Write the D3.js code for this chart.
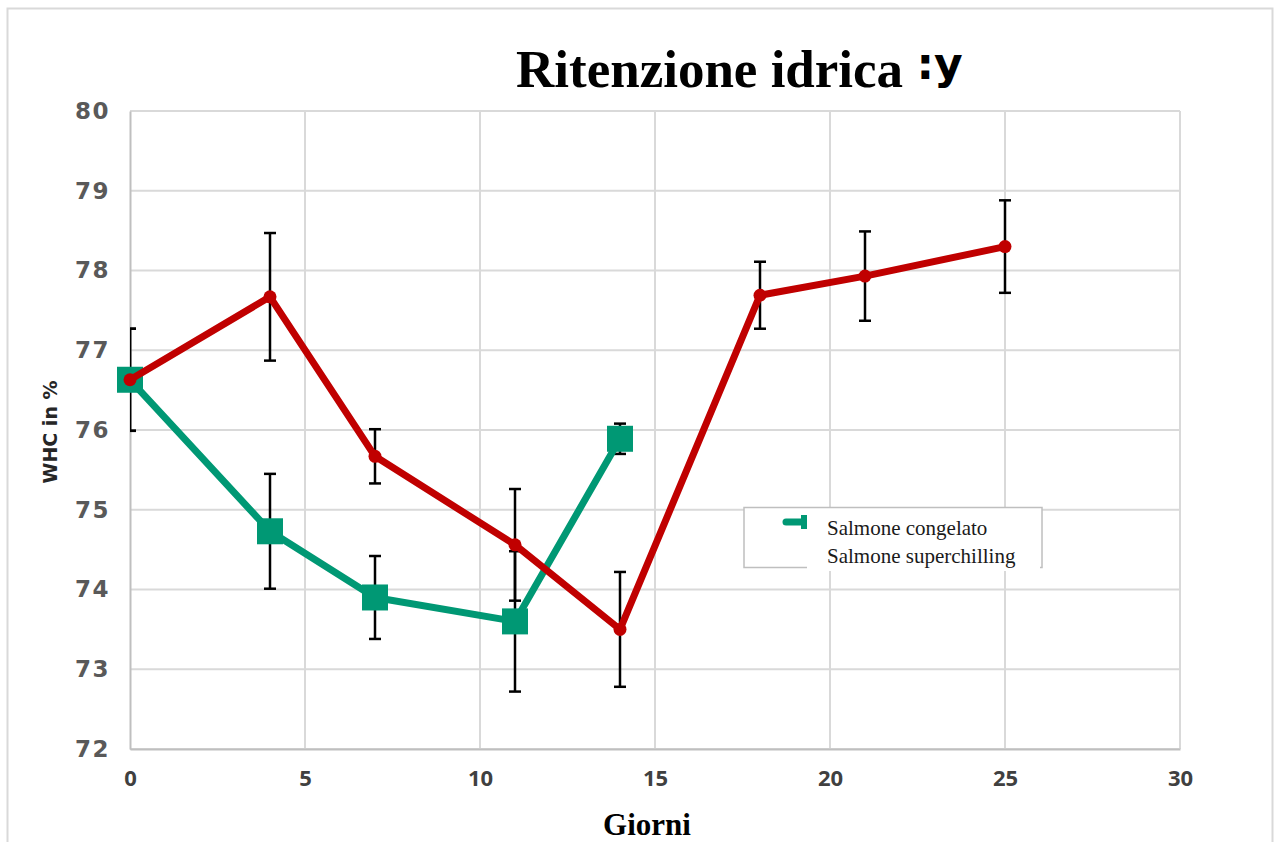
<!DOCTYPE html>
<html>
<head>
<meta charset="utf-8">
<script src="https://cdn.jsdelivr.net/npm/d3@7"></script>
<style>
  html, body { margin: 0; padding: 0; background: #ffffff; }
  svg { display: block; }
</style>
</head>
<body>
<svg id="chart"></svg>
<script>
// dati
const xTicks = [0, 5, 10, 15, 20, 25, 30];
const yTicks = [72, 73, 74, 75, 76, 77, 78, 79, 80];

const congelatoDays = [0, 4, 7, 11, 14];
const congelatoValues = [76.63, 74.73, 73.90, 73.60, 75.89];
const congelatoErrors = [0.64, 0.72, 0.52, 0.88, 0.19];

const superDays = [0, 4, 7, 11, 14, 18, 21, 25];
const superValues = [76.63, 77.67, 75.67, 74.56, 73.50, 77.69, 77.93, 78.30];
const superErrors = [0.64, 0.80, 0.34, 0.70, 0.72, 0.42, 0.56, 0.58];

const seriesNames = ["Salmone congelato", "Salmone superchilling"];

// colori
const greenColor = "#009874";
const redColor = "#c00000";
const gridColor = "#d9d9d9";
const axisColor = "#bfbfbf";

const width = 1274;
const height = 842;
const margin = { top: 111, right: 94, bottom: 93, left: 130 };

const svg = d3.select("#chart")
  .attr("width", width)
  .attr("height", height)
  .attr("viewBox", `0 0 ${width} ${height}`);

// cornice esterna
svg.append("rect")
  .attr("x", 7.5)
  .attr("y", 8.5)
  .attr("width", 1265)
  .attr("height", 850)
  .attr("fill", "none")
  .attr("stroke", gridColor)
  .attr("stroke-width", 2);

const x = d3.scaleLinear()
  .domain([0, 30])
  .range([margin.left, width - margin.right]);

const y = d3.scaleLinear()
  .domain([72, 80])
  .range([height - margin.bottom, margin.top]);

// griglia
svg.append("g")
  .selectAll("line")
  .data(yTicks)
  .enter()
  .append("line")
  .attr("x1", x(0))
  .attr("x2", x(30))
  .attr("y1", (d) => y(d))
  .attr("y2", (d) => y(d))
  .attr("stroke", gridColor)
  .attr("stroke-width", 2);

svg.append("g")
  .selectAll("line")
  .data(xTicks.slice(1))
  .enter()
  .append("line")
  .attr("x1", (d) => x(d))
  .attr("x2", (d) => x(d))
  .attr("y1", y(80))
  .attr("y2", y(72))
  .attr("stroke", gridColor)
  .attr("stroke-width", 2);

// assi
const yAxis = svg.append("g")
  .attr("transform", `translate(${x(0)},0)`)
  .call(d3.axisLeft(y).tickValues(yTicks).tickSize(0).tickPadding(20).tickFormat(d3.format("d")));
yAxis.select("path").attr("stroke", axisColor).attr("stroke-width", 2);
yAxis.selectAll("text")
  .attr("fill", "#595959")
  .style("font-family", "'DejaVu Sans', Verdana, sans-serif")
  .style("font-weight", "bold")
  .style("font-size", "23px")
  .style("letter-spacing", "1.5px");

const xAxis = svg.append("g")
  .attr("transform", `translate(0,${y(72)})`)
  .call(d3.axisBottom(x).tickValues(xTicks).tickSize(0).tickPadding(21).tickFormat(d3.format("d")));
xAxis.select("path").attr("stroke", axisColor).attr("stroke-width", 2);
xAxis.selectAll("text")
  .attr("fill", "#404040")
  .style("font-family", "'Liberation Sans Narrow', 'Open Sans', sans-serif")
  .style("font-weight", "bold")
  .style("font-size", "22px");

// clip per le barre d'errore
svg.append("clipPath")
  .attr("id", "plot-clip")
  .append("rect")
  .attr("x", x(0))
  .attr("y", 0)
  .attr("width", x(30) - x(0))
  .attr("height", height);

const drawErrors = (days, values, errors) => {
  const g = svg.append("g").attr("clip-path", "url(#plot-clip)");
  const rows = days.map((d, i) => ({ day: d, value: values[i], err: errors[i] }));
  g.selectAll(".err-line")
    .data(rows)
    .enter()
    .append("line")
    .attr("x1", (d) => x(d.day))
    .attr("x2", (d) => x(d.day))
    .attr("y1", (d) => y(d.value + d.err))
    .attr("y2", (d) => y(d.value - d.err))
    .attr("stroke", "#000")
    .attr("stroke-width", 2.5);
  [1, -1].forEach((sign) => {
    g.selectAll(null)
      .data(rows)
      .enter()
      .append("line")
      .attr("x1", (d) => x(d.day) - 6)
      .attr("x2", (d) => x(d.day) + 6)
      .attr("y1", (d) => y(d.value + sign * d.err))
      .attr("y2", (d) => y(d.value + sign * d.err))
      .attr("stroke", "#000")
      .attr("stroke-width", 2.5);
  });
};

drawErrors(congelatoDays, congelatoValues, congelatoErrors);
drawErrors(superDays, superValues, superErrors);

const line = d3.line()
  .x((d) => x(d[0]))
  .y((d) => y(d[1]));

// serie congelato
svg.append("path")
  .datum(d3.zip(congelatoDays, congelatoValues))
  .attr("d", line)
  .attr("fill", "none")
  .attr("stroke", greenColor)
  .attr("stroke-width", 7)
  .attr("stroke-linejoin", "round");

svg.selectAll(".green-marker")
  .data(d3.zip(congelatoDays, congelatoValues))
  .enter()
  .append("rect")
  .attr("class", "green-marker")
  .attr("x", (d) => x(d[0]) - 13)
  .attr("y", (d) => y(d[1]) - 13)
  .attr("width", 26)
  .attr("height", 26)
  .attr("fill", greenColor);

// serie superchilling
svg.append("path")
  .datum(d3.zip(superDays, superValues))
  .attr("d", line)
  .attr("fill", "none")
  .attr("stroke", redColor)
  .attr("stroke-width", 7)
  .attr("stroke-linejoin", "round");

svg.selectAll(".red-marker")
  .data(d3.zip(superDays, superValues))
  .enter()
  .append("circle")
  .attr("class", "red-marker")
  .attr("cx", (d) => x(d[0]))
  .attr("cy", (d) => y(d[1]))
  .attr("r", 6.5)
  .attr("fill", redColor);

// titolo
const title = svg.append("text")
  .attr("x", 516)
  .attr("y", 87)
  .style("font-family", "'Liberation Serif', 'Times New Roman', serif")
  .style("font-weight", "bold")
  .style("font-size", "53px")
  .attr("fill", "#000");
title.append("tspan").text("Ritenzione idrica ");
title.append("tspan")
  .style("font-family", "'DejaVu Sans', sans-serif")
  .style("font-size", "44px")
  .attr("dy", -8)
  .text(":y");

// titoli assi
svg.append("text")
  .attr("transform", `translate(57,${(y(72) + y(80)) / 2 + 2}) rotate(-90)`)
  .attr("text-anchor", "middle")
  .style("font-family", "'DejaVu Sans', sans-serif")
  .style("font-weight", "bold")
  .style("font-size", "19px")
  .attr("fill", "#262626")
  .text("WHC in %");

svg.append("text")
  .attr("x", 647)
  .attr("y", 835)
  .attr("text-anchor", "middle")
  .style("font-family", "'Liberation Serif', 'Times New Roman', serif")
  .style("font-weight", "bold")
  .style("font-size", "31px")
  .attr("fill", "#000")
  .text("Giorni");

// legenda
const legend = svg.append("g");
legend.append("rect")
  .attr("x", 744)
  .attr("y", 507.5)
  .attr("width", 298)
  .attr("height", 60)
  .attr("fill", "#fff")
  .attr("stroke", axisColor)
  .attr("stroke-width", 1.5);
legend.append("rect")
  .attr("x", 807)
  .attr("y", 541)
  .attr("width", 233)
  .attr("height", 30)
  .attr("fill", "#fff");
legend.append("line")
  .attr("x1", 786)
  .attr("x2", 802)
  .attr("y1", 522)
  .attr("y2", 522)
  .attr("stroke", greenColor)
  .attr("stroke-width", 7)
  .attr("stroke-linecap", "round");
legend.append("rect")
  .attr("x", 801)
  .attr("y", 515)
  .attr("width", 6)
  .attr("height", 14)
  .attr("fill", greenColor);
legend.selectAll(".legend-text")
  .data(seriesNames)
  .enter()
  .append("text")
  .attr("class", "legend-text")
  .attr("x", 827)
  .attr("y", (d, i) => 535 + i * 28)
  .style("font-family", "'Liberation Serif', 'Times New Roman', serif")
  .style("font-size", "21px")
  .attr("fill", "#1a1a1a")
  .text((d) => d);
</script>
</body>
</html>
